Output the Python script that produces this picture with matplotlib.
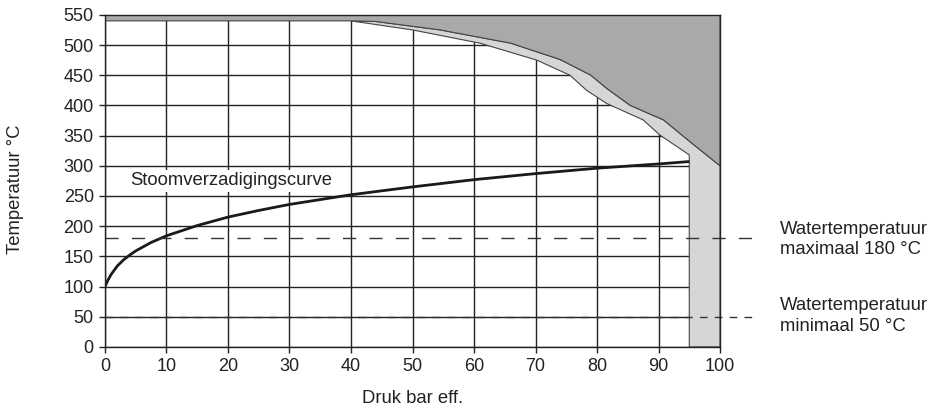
import numpy as np
import matplotlib
matplotlib.use("Agg")
import matplotlib.pyplot as plt

plt.rcParams['font.family'] = ['Liberation Sans', 'DejaVu Sans']

# saturation curve (gauge pressure bar, temperature C)
sat_p = [0, 0.5, 1, 2, 3, 4, 5, 7.5, 10, 15, 20, 25, 30, 40, 50, 60, 70, 80, 90, 95]
sat_t = [100, 111, 120, 134, 144, 152, 159, 173, 184, 201, 215, 226, 236, 252, 265, 277, 287, 296, 303, 307]

# upper limit curve (dark grey area above)
upper_x = [40, 44, 54.5, 66, 74, 79, 81.6, 85.4, 90.8, 95.1, 100]
upper_y = [540, 539, 525, 503, 476, 450, 428, 400, 376, 340, 300]

# lower limit curve (light grey band below upper curve)
lower_x = [40, 50, 61, 70.2, 75.6, 78.3, 81.6, 87.5, 90.2, 95]
lower_y = [540, 525, 503, 475, 450, 425, 403, 376, 351, 318]

water_max = 180
water_min = 50

dark = '#a8a9ab'
light = '#d5d6d8'
fs = 13.3

fig = plt.figure(figsize=(9.39, 4.12), dpi=100)
ax = fig.add_axes([0.1118, 0.158, 0.655, 0.806])

ax.set_xlim(0, 100)
ax.set_ylim(0, 550)
ax.set_xticks(np.arange(0, 101, 10))
ax.set_yticks(np.arange(0, 551, 50))
ax.grid(True, color='#222222', lw=1.0, zorder=0)
ax.set_axisbelow(True)

# dark region
dx = [0, 40] + upper_x[1:] + [100, 0]
dy = [540, 540] + upper_y[1:] + [550, 550]
ax.fill(dx, dy, color=dark, ec='#444444', lw=0.8, zorder=2)

# light region
lx = upper_x + [100, 95] + lower_x[::-1]
ly = upper_y + [0, 0] + lower_y[::-1]
ax.fill(lx, ly, color=light, ec='#444444', lw=0.8, zorder=1.5)

ax.plot(sat_p, sat_t, color='#1a1a1a', lw=2.0, zorder=3, solid_capstyle='butt')

ax.plot([0, 105.2], [water_max, water_max], color='#333333', lw=1.0,
        dashes=(9.5, 9.5), clip_on=False, zorder=4)
ax.plot([0, 105.2], [water_min, water_min], color='#333333', lw=1.0,
        dashes=(5.5, 5.2), clip_on=False, zorder=4)

ax.text(4.1, 275, 'Stoomverzadigingscurve', fontsize=fs, color='#222222',
        va='center', ha='left', zorder=5,
        bbox=dict(fc='white', ec='none', pad=2))

ax.text(109.8, 178, 'Watertemperatuur\nmaximaal 180 °C', fontsize=fs,
        color='#222222', va='center', ha='left', linespacing=1.25, clip_on=False)
ax.text(109.8, 51, 'Watertemperatuur\nminimaal 50 °C', fontsize=fs,
        color='#222222', va='center', ha='left', linespacing=1.25, clip_on=False)

for s in ax.spines.values():
    s.set_color('#222222')
    s.set_linewidth(1.0)
    s.set_zorder(6)

ax.tick_params(direction='out', length=4, width=1, colors='#222222',
               labelsize=13, labelcolor='#222222', pad=4)

fig.text(0.016, 0.54, 'Temperatuur °C', rotation=90, fontsize=fs,
         color='#222222', va='center', ha='center')
fig.text(0.439, 0.032, 'Druk bar eff.', fontsize=fs, color='#222222',
         va='center', ha='center')

fig.savefig('out.png', dpi=100)
